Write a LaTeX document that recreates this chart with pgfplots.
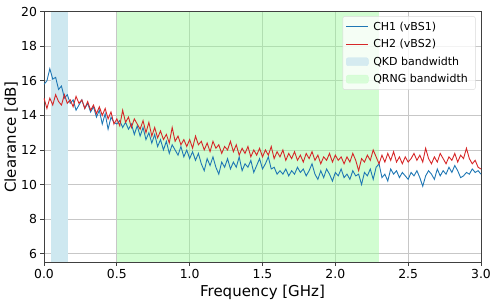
\documentclass[border=0pt]{standalone}
\usepackage{pgfplots}
\pgfplotsset{compat=1.18}
\usepackage{fontspec}
\setmainfont{DejaVu Sans}
\definecolor{ch1}{HTML}{1F77B4}
\definecolor{ch2}{HTML}{D62728}
\definecolor{qkd}{RGB}{173,216,230}
\definecolor{qrng}{RGB}{152,251,152}
\colorlet{qkdl}{qkd!60!white}
\colorlet{qrngl}{qrng!45!white}
\begin{document}
\begin{tikzpicture}
\begin{axis}[
  scale only axis,
  width=437pt, height=250.6pt,
  xmin=0, xmax=3, ymin=5.5, ymax=20,
  xtick={0,0.5,1,1.5,2,2.5,3},
  ytick={6,8,10,12,14,16,18,20},
  xticklabel style={/pgf/number format/.cd,fixed,fixed zerofill,precision=1},
  /pgf/number format/assume math mode=true,
  tick label style={font=\fontsize{12.4}{14}\selectfont},
  label style={font=\fontsize{15}{17}\selectfont},
  xlabel={Frequency [GHz]},
  ylabel={Clearance [dB]},
  ylabel style={yshift=-3.5pt},
  grid=major,
  major grid style={draw=black!22, line width=0.8pt},
  axis line style={black!75, line width=0.8pt},
  tick style={black!75, line width=0.8pt},
  tick align=outside, xtick pos=left, ytick pos=left,
  major tick length=3.5pt,
  legend style={at={(1,1)}, anchor=north east, xshift=-5.5pt, yshift=-4.5pt,
    draw=black!15, rounded corners=2pt, fill=white, fill opacity=0.8, text opacity=1,
    font=\fontsize{11}{12}\selectfont, row sep=3.6pt, inner xsep=3pt, inner ysep=3.5pt,
    nodes={inner xsep=4.5pt}},
  legend cell align=left,
  legend image code/.code={\draw[#1, line width=0.9pt] (0pt,0pt) -- (22pt,0pt);},
]
\addplot[draw=none, fill=qkdl, forget plot] coordinates {(0.05,20) (0.165,20)} \closedcycle;
\addplot[draw=none, fill=qrng, fill opacity=0.45, forget plot] coordinates {(0.5,20) (2.3,20)} \closedcycle;

\addplot[ch1, line width=0.9pt] coordinates {
(0.00,15.8)(0.02,16.0)(0.04,16.7)(0.06,16.1)(0.08,16.2)(0.10,15.5)(0.12,15.7)(0.14,15.0)(0.16,15.2)(0.18,14.7)
(0.20,14.9)(0.22,14.3)(0.24,14.6)(0.26,14.9)(0.28,14.4)(0.30,14.7)(0.32,14.2)(0.34,14.5)(0.36,13.9)(0.38,14.3)
(0.40,13.5)(0.42,14.1)(0.44,13.2)(0.46,13.9)(0.48,13.6)(0.50,13.5)(0.52,13.7)(0.54,13.3)(0.56,13.6)(0.58,13.2)
(0.60,13.5)(0.62,12.9)(0.64,13.4)(0.66,12.8)(0.68,13.3)(0.70,12.6)(0.72,13.0)(0.74,12.4)(0.76,12.9)(0.78,12.2)
(0.80,12.6)(0.82,12.0)(0.84,12.5)(0.86,11.8)(0.88,12.3)(0.90,12.0)(0.92,11.7)(0.94,12.2)(0.96,11.6)(0.98,12.0)
(1.00,11.5)(1.02,11.9)(1.04,11.4)(1.06,11.8)(1.08,11.2)(1.10,10.8)(1.12,11.5)(1.14,11.1)(1.16,11.6)(1.18,11.0)
(1.20,10.6)(1.22,11.3)(1.24,11.0)(1.26,11.5)(1.28,10.9)(1.30,11.3)(1.32,11.0)(1.34,11.6)(1.36,10.8)(1.38,11.2)
(1.40,11.0)(1.42,11.4)(1.44,10.7)(1.46,11.1)(1.48,11.5)(1.50,10.9)(1.52,11.2)(1.54,11.6)(1.56,10.9)(1.58,11.0)
(1.60,10.6)(1.62,10.8)(1.64,10.6)(1.66,10.9)(1.68,10.5)(1.70,10.8)(1.72,10.6)(1.74,11.0)(1.76,10.7)(1.78,10.9)
(1.80,10.5)(1.82,10.8)(1.84,11.2)(1.86,10.6)(1.88,10.3)(1.90,10.8)(1.92,10.4)(1.94,10.9)(1.96,10.6)(1.98,10.2)
(2.00,10.7)(2.02,10.5)(2.04,10.9)(2.06,10.4)(2.08,10.6)(2.10,10.3)(2.12,10.8)(2.14,10.5)(2.16,10.6)(2.18,10.0)
(2.20,10.7)(2.22,10.5)(2.24,10.9)(2.26,10.3)(2.28,11.0)(2.30,11.2)(2.32,10.4)(2.34,10.6)(2.36,10.2)(2.38,10.9)
(2.40,10.6)(2.42,10.8)(2.44,10.4)(2.46,10.7)(2.48,10.5)(2.50,10.3)(2.52,10.7)(2.54,10.5)(2.56,10.8)(2.58,10.4)
(2.60,9.9)(2.62,10.5)(2.64,10.8)(2.66,10.6)(2.68,10.3)(2.70,10.9)(2.72,10.5)(2.74,10.8)(2.76,10.6)(2.78,11.0)
(2.80,10.7)(2.82,11.1)(2.84,10.8)(2.86,10.4)(2.88,10.5)(2.90,10.7)(2.92,10.6)(2.94,10.9)(2.96,10.7)(2.98,10.8)
(3.00,10.6)
};
\addlegendentry{CH1 (vBS1)}
\addplot[ch2, line width=0.9pt] coordinates {
(0.00,15.0)(0.02,14.4)(0.04,15.0)(0.06,14.6)(0.08,15.2)(0.10,14.8)(0.12,14.6)(0.14,15.2)(0.16,14.7)(0.18,14.9)
(0.20,14.5)(0.22,15.1)(0.24,14.7)(0.26,14.9)(0.28,14.4)(0.30,14.8)(0.32,14.3)(0.34,14.6)(0.36,14.1)(0.38,14.5)
(0.40,14.0)(0.42,14.4)(0.44,13.8)(0.46,14.2)(0.48,13.5)(0.50,13.8)(0.52,13.4)(0.54,14.3)(0.56,13.6)(0.58,13.9)
(0.60,13.3)(0.62,13.8)(0.64,13.5)(0.66,13.2)(0.68,13.7)(0.70,13.0)(0.72,13.6)(0.74,12.8)(0.76,13.3)(0.78,12.7)
(0.80,13.1)(0.82,12.6)(0.84,12.9)(0.86,12.4)(0.88,13.3)(0.90,12.5)(0.92,12.8)(0.94,12.3)(0.96,12.6)(0.98,12.2)
(1.00,12.6)(1.02,12.1)(1.04,12.8)(1.06,12.3)(1.08,12.5)(1.10,12.0)(1.12,12.4)(1.14,11.9)(1.16,12.5)(1.18,12.1)
(1.20,12.3)(1.22,11.8)(1.24,12.2)(1.26,12.0)(1.28,12.5)(1.30,11.9)(1.32,12.3)(1.34,11.7)(1.36,12.1)(1.38,11.8)
(1.40,12.2)(1.42,11.6)(1.44,12.0)(1.46,11.7)(1.48,12.1)(1.50,11.6)(1.52,12.0)(1.54,11.7)(1.56,12.2)(1.58,11.5)
(1.60,11.9)(1.62,11.6)(1.64,12.0)(1.66,11.4)(1.68,11.8)(1.70,11.5)(1.72,11.9)(1.74,11.4)(1.76,11.7)(1.78,11.3)
(1.80,11.8)(1.82,11.5)(1.84,11.9)(1.86,11.4)(1.88,11.7)(1.90,11.2)(1.92,11.6)(1.94,11.4)(1.96,11.8)(1.98,11.3)
(2.00,11.7)(2.02,11.4)(2.04,11.6)(2.06,11.2)(2.08,11.6)(2.10,11.3)(2.12,11.8)(2.14,11.4)(2.16,10.8)(2.18,11.5)
(2.20,11.3)(2.22,11.7)(2.24,11.4)(2.26,12.0)(2.28,11.6)(2.30,11.2)(2.32,11.7)(2.34,11.3)(2.36,11.8)(2.38,11.4)
(2.40,11.9)(2.42,11.3)(2.44,11.6)(2.46,11.2)(2.48,11.6)(2.50,11.3)(2.52,11.5)(2.54,11.8)(2.56,11.4)(2.58,11.7)
(2.60,11.3)(2.62,12.1)(2.64,11.5)(2.66,11.2)(2.68,11.6)(2.70,11.3)(2.72,11.8)(2.74,11.5)(2.76,11.2)(2.78,11.6)
(2.80,11.4)(2.82,11.8)(2.84,11.3)(2.86,11.7)(2.88,11.5)(2.90,12.1)(2.92,11.5)(2.94,11.2)(2.96,11.4)(2.98,11.0)
(3.00,10.9)
};
\addlegendentry{CH2 (vBS2)}
\addlegendimage{legend image code/.code={\fill[qkdl] (0pt,-4pt) rectangle (22pt,4pt);}}
\addlegendentry{QKD bandwidth}
\addlegendimage{legend image code/.code={\fill[qrngl] (0pt,-4pt) rectangle (22pt,4pt);}}
\addlegendentry{QRNG bandwidth}
\end{axis}
\pgfresetboundingbox
\path (-44pt,-40.7pt) rectangle (454pt,262.3pt);
\end{tikzpicture}
\end{document}
